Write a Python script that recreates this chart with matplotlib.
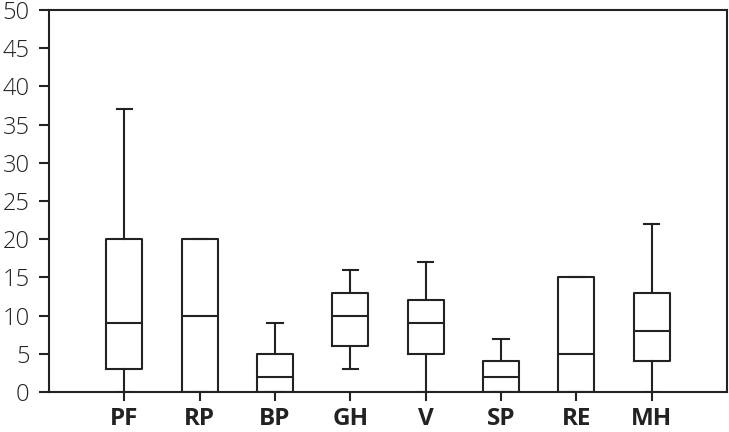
import matplotlib
matplotlib.use('Agg')
import matplotlib.pyplot as plt

# box plot summary values
categories = ['PF', 'RP', 'BP', 'GH', 'V', 'SP', 'RE', 'MH']
whisk_lo = [0, 0, 0, 3, 0, 0, 0, 0]
q1 = [3, 0, 0, 6, 5, 0, 0, 4]
median = [9, 10, 2, 10, 9, 2, 5, 8]
q3 = [20, 20, 5, 13, 12, 4, 15, 13]
whisk_hi = [37, 20, 9, 16, 17, 7, 15, 22]

plt.rcParams['font.family'] = ['Open Sans', 'DejaVu Sans']

fig = plt.figure(figsize=(7.29, 4.32), dpi=100)
ax = fig.add_axes([49/729, 1 - 392/432, (727-49)/729, (392-10)/432])

stats = []
for i in range(len(categories)):
    stats.append({'label': categories[i], 'whislo': whisk_lo[i], 'q1': q1[i],
                  'med': median[i], 'q3': q3[i], 'whishi': whisk_hi[i], 'fliers': []})

lw = 1.5
ax.bxp(stats, positions=range(1, len(categories) + 1), widths=0.48,
       showfliers=False, capwidths=0.2,
       boxprops=dict(color='#222222', linewidth=lw),
       medianprops=dict(color='#222222', linewidth=lw),
       whiskerprops=dict(color='#222222', linewidth=lw),
       capprops=dict(color='#222222', linewidth=lw))

ax.set_xlim(0, 9)
ax.set_ylim(0, 50)
ax.set_yticks(range(0, 51, 5))

for s in ax.spines.values():
    s.set_linewidth(lw)
    s.set_color('#222222')

ax.tick_params(axis='y', length=7, width=lw, pad=7, labelsize=17, colors='#222222')
ax.tick_params(axis='x', length=6.5, width=lw, pad=4, colors='#222222')
for t in ax.get_yticklabels():
    t.set_fontweight('light')
ax.set_xticklabels(categories, fontsize=17.5, fontweight='bold')

fig.savefig('out.png', dpi=100)
